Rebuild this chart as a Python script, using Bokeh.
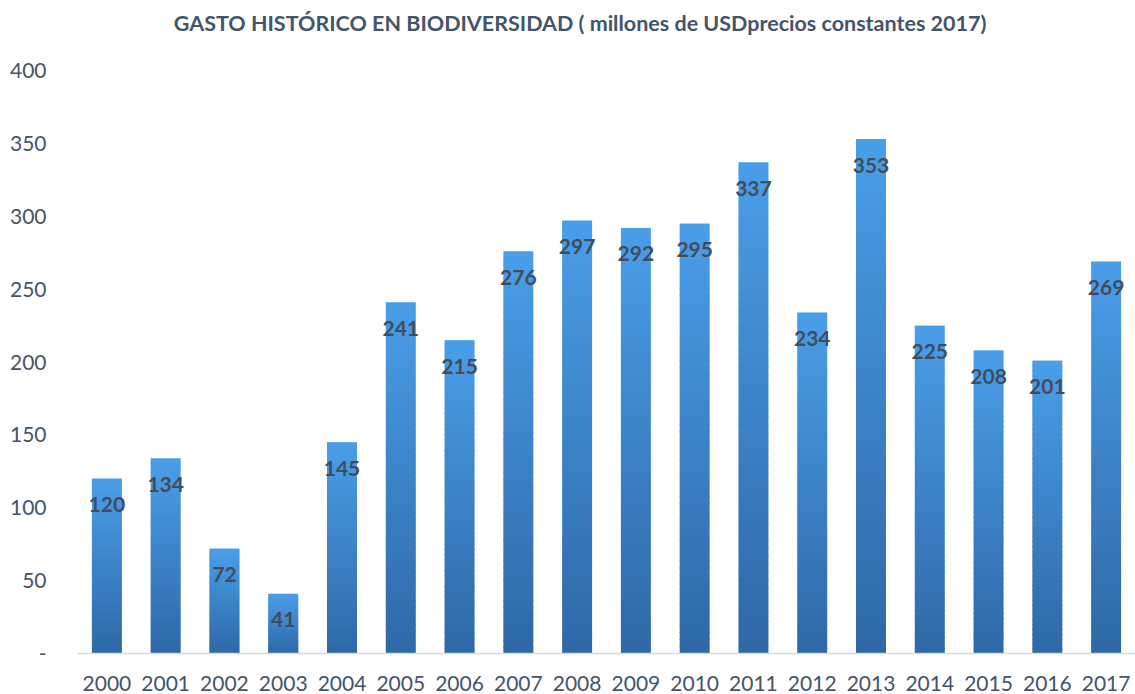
from bokeh.plotting import figure
from bokeh.models import FactorRange, Range1d, FixedTicker, Label
from bokeh.core.properties import value
from bokeh.embed import file_html
from bokeh.resources import INLINE

# ---- data ----
years = [str(y) for y in range(2000, 2018)]
values = [120, 134, 72, 41, 145, 241, 215, 276, 297, 292, 295, 337, 234, 353, 225, 208, 201, 269]
y_ticks = [0, 50, 100, 150, 200, 250, 300, 350, 400]
y_tick_labels = ["-", "50", "100", "150", "200", "250", "300", "350", "400"]
title_text = "GASTO HISTÓRICO EN BIODIVERSIDAD ( millones de USDprecios constantes 2017)"

TEXT_COL = "#44546a"
FONT = "Lato"

H = 694
BOTTOM = 41
frame_h = H - BOTTOM
axis_top_px = 70  # where the 400 tick sits
y_max = 400 * frame_h / (frame_h - axis_top_px)

p = figure(width=1135, height=H,
           x_range=FactorRange(*years, range_padding=0),
           y_range=Range1d(0, y_max),
           output_backend="svg", toolbar_location=None,
           min_border_left=77, min_border_right=0,
           min_border_top=0, min_border_bottom=BOTTOM)

# gradient bars built from bands (top light, bottom dark)
N = 60
top_rgb = (74, 158, 232)
bot_rgb = (46, 104, 166)
bx, bbot, btop, bcol = [], [], [], []
for yr, v in zip(years, values):
    for i in range(N):
        f0 = i / N
        f1 = (i + 1) / N
        t = (i + 0.5) / N
        c = tuple(int(round(bot_rgb[k] + (top_rgb[k] - bot_rgb[k]) * t)) for k in range(3))
        bx.append(yr)
        bbot.append(max(0.0, v * f0 - 0.6))
        btop.append(v * f1)
        bcol.append("#%02x%02x%02x" % c)

p.vbar(x=bx, bottom=bbot, top=btop, width=0.51, fill_color=bcol, line_color=None)

p.text(x=years, y=values, text=[str(v) for v in values],
       text_align="center", text_baseline="middle", y_offset=26,
       text_font=value(FONT), text_font_style="bold", text_font_size="21px",
       text_color="#404d5f")

# title as a label floated above the plotted data
title = Label(x=len(years) / 2 - 0.45, y=400, y_offset=48, text=title_text,
              text_align="center", text_baseline="middle",
              text_font=FONT, text_font_style="bold", text_font_size="21.5px",
              text_color=TEXT_COL)
p.add_layout(title)

# axes
p.xaxis.axis_line_color = "#d9d9d9"
p.xaxis.axis_line_width = 1.5
p.xaxis.major_tick_line_color = None
p.xaxis.minor_tick_line_color = None
p.xaxis.major_label_text_font = FONT
p.xaxis.major_label_text_font_size = "21px"
p.xaxis.major_label_text_color = TEXT_COL
p.xaxis.major_label_standoff = 16

p.yaxis.ticker = FixedTicker(ticks=y_ticks)
p.yaxis.major_label_overrides = {t: l for t, l in zip(y_ticks, y_tick_labels)}
p.yaxis.axis_line_color = None
p.yaxis.major_tick_line_color = None
p.yaxis.minor_tick_line_color = None
p.yaxis.major_label_text_font = FONT
p.yaxis.major_label_text_font_size = "21px"
p.yaxis.major_label_text_color = TEXT_COL
p.yaxis.major_label_standoff = 25

p.xgrid.grid_line_color = None
p.ygrid.grid_line_color = None
p.outline_line_color = None

open("out.html", "w").write(file_html(p, INLINE))
